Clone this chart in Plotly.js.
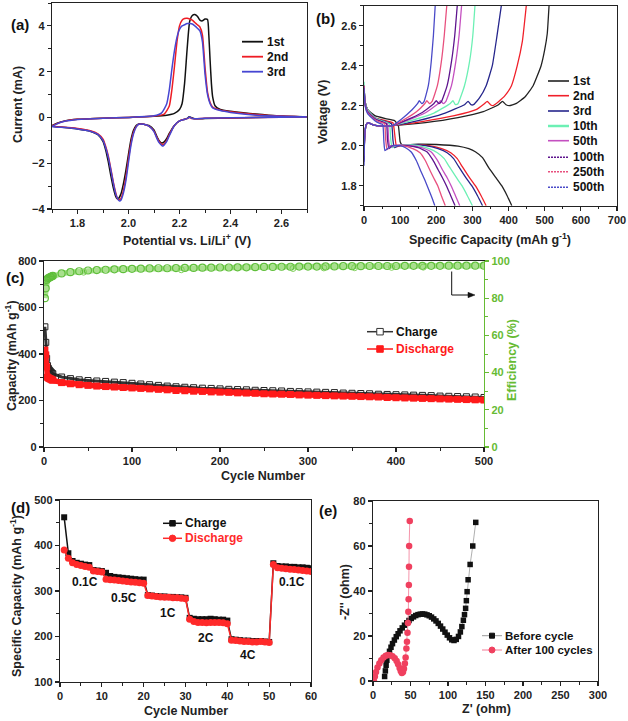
<!DOCTYPE html>
<html>
<head>
<meta charset="utf-8">
<script src="https://cdn.plot.ly/plotly-3.0.1.min.js"></script>
<style>html,body{margin:0;padding:0;background:#fff;}#chart{width:628px;height:721px;}</style>
</head>
<body>
<div id="chart"></div>
<script>
// ---------------- (a) cyclic voltammetry ----------------
const cv1stAnodicV = [1.70,1.72,1.75,1.80,1.90,2.00,2.10,2.15,2.18,2.20,2.21,2.22,2.23,2.24,2.25,2.26,2.27,2.28,2.29,2.30,2.31,2.315,2.32,2.325,2.33,2.34,2.36,2.40,2.45,2.50,2.55,2.60,2.70];
const cv1stAnodicI = [-0.36,-0.25,-0.15,-0.08,-0.03,0.0,0.05,0.1,0.18,0.35,0.6,1.5,3.0,4.2,4.45,4.5,4.42,4.25,4.22,4.3,4.28,3.6,2.5,1.5,0.9,0.5,0.35,0.27,0.2,0.15,0.1,0.06,0.03];
const cv1stCathodicV = [2.60,2.50,2.40,2.30,2.26,2.245,2.238,2.23,2.22,2.20,2.18,2.16,2.15,2.14,2.13,2.12,2.11,2.10,2.08,2.06,2.05,2.04,2.03,2.02,2.01,2.00,1.99,1.98,1.97,1.96,1.955,1.95,1.94,1.93,1.92,1.91,1.90,1.88,1.85,1.80,1.75,1.70];
const cv1stCathodicI = [0.02,0.0,-0.02,-0.05,-0.06,0.0,0.03,-0.04,-0.08,-0.15,-0.35,-0.7,-0.92,-1.07,-1.12,-1.02,-0.8,-0.55,-0.35,-0.3,-0.28,-0.28,-0.35,-0.55,-0.95,-1.6,-2.3,-2.9,-3.35,-3.55,-3.55,-3.45,-3.05,-2.5,-1.9,-1.4,-1.05,-0.75,-0.6,-0.5,-0.44,-0.38];

const cv2ndAnodicV = [1.70,1.72,1.75,1.80,1.90,2.00,2.10,2.14,2.16,2.17,2.18,2.19,2.20,2.21,2.22,2.23,2.24,2.25,2.26,2.27,2.28,2.29,2.30,2.31,2.32,2.33,2.36,2.40,2.50,2.60,2.70];
const cv2ndAnodicI = [-0.38,-0.27,-0.16,-0.08,-0.03,0.0,0.06,0.15,0.5,1.2,2.2,3.3,4.0,4.25,4.32,4.33,4.3,4.25,4.15,4.05,3.95,3.6,2.2,1.1,0.65,0.45,0.32,0.25,0.13,0.06,0.03];
const cv2ndCathodicV = [2.50,2.30,2.25,2.24,2.23,2.20,2.18,2.16,2.15,2.14,2.13,2.12,2.11,2.10,2.08,2.06,2.04,2.03,2.02,2.01,2.00,1.99,1.98,1.97,1.962,1.955,1.95,1.94,1.93,1.92,1.91,1.90,1.88,1.85,1.80,1.75,1.70];
const cv2ndCathodicI = [0.0,-0.04,-0.05,0.0,-0.05,-0.15,-0.35,-0.75,-1.0,-1.15,-1.18,-1.05,-0.85,-0.6,-0.38,-0.3,-0.3,-0.4,-0.65,-1.1,-1.8,-2.6,-3.2,-3.55,-3.6,-3.5,-3.3,-2.8,-2.2,-1.65,-1.25,-0.95,-0.72,-0.58,-0.48,-0.43,-0.38];

const cv3rdAnodicV = [1.70,1.72,1.75,1.80,1.90,2.00,2.10,2.13,2.15,2.16,2.17,2.18,2.19,2.20,2.21,2.22,2.23,2.24,2.25,2.26,2.27,2.28,2.29,2.30,2.31,2.32,2.33,2.36,2.40,2.50,2.60,2.70];
const cv3rdAnodicI = [-0.4,-0.28,-0.17,-0.09,-0.03,0.0,0.07,0.2,0.6,1.2,2.1,2.9,3.5,3.85,4.0,4.05,4.1,4.1,4.08,4.0,3.9,3.78,3.3,1.9,1.0,0.6,0.42,0.3,0.22,0.1,0.05,0.02];
const cv3rdCathodicV = [2.50,2.30,2.25,2.24,2.23,2.20,2.18,2.16,2.15,2.14,2.135,2.13,2.12,2.11,2.10,2.08,2.06,2.04,2.03,2.02,2.01,2.00,1.99,1.98,1.97,1.965,1.96,1.95,1.94,1.93,1.92,1.91,1.90,1.88,1.85,1.80,1.75,1.70];
const cv3rdCathodicI = [0.0,-0.04,-0.05,0.02,-0.05,-0.15,-0.35,-0.8,-1.05,-1.2,-1.25,-1.22,-1.1,-0.88,-0.62,-0.38,-0.3,-0.3,-0.42,-0.7,-1.2,-1.95,-2.75,-3.3,-3.62,-3.65,-3.6,-3.35,-2.85,-2.25,-1.7,-1.3,-1.0,-0.74,-0.6,-0.5,-0.44,-0.4];

const cvLabels = ['1st','2nd','3rd'];
const cvColors = ['#111111','#ee1c24','#4646d2'];

// ---------------- (b) charge / discharge profiles ----------------
const gcLabels = ['1st','2nd','3rd','10th','50th','100th','250th','500th'];
const gcColors = ['#222222','#f0202a','#26268c','#6cf0b4','#c450c0','#5e148e','#e8507e','#4a4ac8'];
const gcLegendDash = ['solid','solid','solid','solid','solid','2px,1px','2px,1px','2px,1px'];

const gcChargeCap = [
  [0,2,6,12,20,35,55,78,170,260,330,372,383,393,402,420,446,468,490,500,507,512],
  [0,2,6,12,20,35,55,78,160,250,310,333,341,350,357,372,390,408,424,438,449],
  [0,2,6,12,20,35,55,78,150,220,278,288,296,303,320,338,355,368,380],
  [0,2,6,12,20,35,55,78,130,190,238,246,253,260,278,292,301,307],
  [0,2,6,12,20,35,55,78,125,170,205,212,219,226,242,254,263,270],
  [0,2,6,12,20,35,55,78,120,160,193,200,207,214,230,242,251,258],
  [0,2,6,12,20,35,55,78,110,145,168,174,181,188,203,214,222,229],
  [0,2,6,12,20,35,55,78,105,133,148,153,160,166,178,186,192,197]
];
const gcChargeV = [
  [1.98,2.05,2.105,2.115,2.108,2.1,2.098,2.1,2.115,2.14,2.17,2.205,2.222,2.205,2.2,2.21,2.245,2.3,2.4,2.48,2.56,2.7],
  [1.95,2.05,2.105,2.115,2.108,2.1,2.098,2.1,2.12,2.15,2.18,2.21,2.222,2.205,2.2,2.22,2.25,2.3,2.4,2.52,2.7],
  [1.93,2.05,2.105,2.115,2.108,2.1,2.098,2.1,2.125,2.16,2.205,2.222,2.205,2.205,2.24,2.3,2.4,2.55,2.7],
  [1.96,2.05,2.105,2.115,2.108,2.1,2.098,2.1,2.125,2.16,2.21,2.225,2.205,2.21,2.3,2.42,2.55,2.7],
  [1.94,2.05,2.105,2.115,2.108,2.1,2.098,2.1,2.13,2.165,2.21,2.225,2.21,2.22,2.3,2.42,2.55,2.7],
  [1.92,2.05,2.105,2.115,2.108,2.1,2.098,2.1,2.13,2.165,2.21,2.225,2.21,2.22,2.3,2.42,2.55,2.7],
  [1.95,2.05,2.105,2.115,2.108,2.1,2.098,2.1,2.13,2.17,2.21,2.225,2.21,2.22,2.3,2.42,2.55,2.7],
  [1.90,2.05,2.105,2.115,2.108,2.1,2.098,2.1,2.135,2.18,2.21,2.225,2.21,2.22,2.3,2.42,2.55,2.7]
];
const gcDischargeCap = [
  [0,3,10,30,60,85,95,100,105,150,200,260,290,308,328,345,365,381,396,409],
  [0,3,10,30,60,80,86,90,100,140,180,215,240,258,272,290,308,324,338],
  [0,3,10,30,60,76,80,84,95,135,170,205,230,248,262,280,298,314,328],
  [0,3,10,30,55,70,74,78,88,120,150,180,203,222,236,254,271,286,300],
  [0,3,10,30,50,65,68,72,82,120,160,185,202,217,230,241,253,265],
  [0,3,10,30,50,62,65,69,78,115,150,174,190,205,217,228,240,252],
  [0,3,10,30,48,57,60,64,74,105,135,155,170,183,194,204,214,225],
  [0,3,10,30,45,52,55,58,68,78,100,115,130,145,158,168,177,187,196]
];
const gcDischargeV = [
  [2.3,2.22,2.18,2.15,2.135,2.125,2.1,2.02,2.005,2.008,2.006,1.998,1.985,1.97,1.94,1.89,1.84,1.8,1.75,1.7],
  [2.3,2.22,2.18,2.14,2.125,2.115,2.04,1.995,2.0,2.005,2.0,1.985,1.965,1.935,1.895,1.845,1.8,1.75,1.7],
  [2.3,2.22,2.18,2.14,2.12,2.11,2.03,1.99,2.0,2.005,2.0,1.985,1.965,1.935,1.895,1.845,1.8,1.75,1.7],
  [2.32,2.22,2.18,2.14,2.12,2.11,2.03,1.99,2.0,2.005,2.0,1.985,1.965,1.935,1.895,1.845,1.8,1.75,1.7],
  [2.3,2.21,2.17,2.135,2.12,2.11,2.03,1.99,2.0,2.003,1.99,1.97,1.93,1.88,1.84,1.8,1.75,1.7],
  [2.3,2.21,2.17,2.135,2.12,2.11,2.03,1.985,2.0,2.0,1.99,1.97,1.93,1.88,1.84,1.8,1.75,1.7],
  [2.3,2.2,2.165,2.13,2.115,2.11,2.03,1.98,2.0,2.0,1.985,1.965,1.925,1.875,1.835,1.8,1.75,1.7],
  [2.29,2.2,2.16,2.125,2.11,2.105,2.02,1.975,1.99,2.0,2.0,1.99,1.97,1.925,1.87,1.83,1.79,1.745,1.7]
];

// ---------------- (c) long cycling ----------------
const longCycles = [1,2,3,4,5,6,7,8,9,10,20,30,40,50,60,70,80,90,100,110,120,130,140,150,160,170,180,190,200,210,220,230,240,250,260,270,280,290,300,310,320,330,340,350,360,370,380,390,400,410,420,430,440,450,460,470,480,490,500];
const longCharge = [517,450,381,350,338,331,326,322,318,315,301,294,289,286,284,282,279,277,274,271,268,265,262,259,257,255,253,252,250,248,247,246,244,243,242,241,239,238,237,236,235,234,232,231,230,229,227,226,225,224,223,222,221,219,218,217,216,215,213];
const longDischarge = [417,396,345,300,297,295,293,291,289,287,277,272,268,265,262,260,258,256,254,252,250,248,246,243,242,240,239,237,236,235,233,232,231,229,228,227,226,224,223,222,221,220,219,218,217,216,215,213,212,211,210,209,208,207,206,205,204,203,202];
const longEfficiency = [80,85.3,89.8,90.5,90.8,91.0,91.3,91.5,91.8,92.0,93.3,94.0,94.5,94.9,95.1,95.3,95.5,95.6,95.8,95.9,96.0,96.1,96.1,96.2,96.3,96.3,96.4,96.4,96.5,96.5,96.6,96.6,96.7,96.8,96.8,96.9,96.9,97.0,97.0,97.0,97.1,97.1,97.2,97.2,97.2,97.3,97.3,97.3,97.3,97.4,97.4,97.4,97.4,97.4,97.5,97.5,97.5,97.5,97.5];
const effDipCycles = [45,156,283,318,353,395,431];
const effDipValues = [94.0,95.3,96.0,96.3,96.4,96.6,96.7];

// ---------------- (d) rate capability ----------------
const rateCycles = [1,2,3,4,5,6,7,8,9,10,11,12,13,14,15,16,17,18,19,20,21,22,23,24,25,26,27,28,29,30,31,32,33,34,35,36,37,38,39,40,41,42,43,44,45,46,47,48,49,50,51,52,53,54,55,56,57,58,59,60];
const rateCharge = [462,383,366,362,360,358,357,346,345,344,340,333,331,330,329,328,327,326,325,325,291,290,289,288,288,287,287,286,286,285,241,239,238,238,238,239,238,237,237,235,194,193,192,191,191,190,190,190,189,188,361,355,354,354,353,353,352,352,351,350];
const rateDischarge = [390,372,362,358,356,354,352,344,343,342,326,325,324,323,322,321,320,319,318,317,290,289,288,287,286,286,285,285,284,283,238,233,231,231,230,231,231,231,230,228,192,191,190,189,189,188,188,189,188,187,358,351,350,349,348,347,346,345,344,343];
const rateLabels = ['0.1C','0.5C','1C','2C','4C','0.1C'];
const rateLabelX = [6,15.2,25.8,35,45,55.5];
const rateLabelY = [320,285,252,197,159,320];

// ---------------- (e) impedance ----------------
const eisBeforeRe = [15.5,16.5,17.5,18.5,20,22,24,26,28.5,31,33.5,36,39,42,45,48,51,54,57,60,63,66,69,72,75,78,81,84,87,90,93,96,99,102,105,108,111,114,116.5,118.5,120.5,122,123.5,124.5,125.5,126.8,129.5,133,137];
const eisBeforeIm = [2.0,4.5,7.0,9.2,11.3,13.2,15,16.6,18.2,19.7,21,22.3,23.6,24.8,25.9,26.9,27.8,28.5,29.1,29.5,29.7,29.8,29.7,29.4,29.0,28.4,27.6,26.7,25.6,24.4,23.1,21.7,20.4,19.2,18.3,18.0,18.5,19.8,21.8,24.2,27,29.5,32.3,35.7,39.7,45,51.8,60.0,70.5];
const eisAfterRe = [1.3,2.5,4,6,8.5,11,14,17,20,23,26,29,31.5,33.5,35.5,37,38.5,40,41.3,42.5,43.5,44.5,45.3,46,46.6,47.1,47.5,47.8,48,48.2,49];
const eisAfterIm = [0,2.0,4.0,6.0,7.8,9.2,10.4,11.2,11.6,11.5,11.0,10.1,8.9,7.5,5.8,4.4,3.6,4.0,5.5,7.8,10.5,14.5,17.5,21.5,25.8,30.8,36.3,42.7,50.8,60.0,71.1];

// ================= drawing =================
const W = 628, H = 721;
const FONT = 'Liberation Sans, Arial, sans-serif';
const px = v => v / W;
const py = v => 1 - v / H;
const shapes = [];
const annotations = [];

const traces = [];
// (a)
const cvAV = [cv1stAnodicV, cv2ndAnodicV, cv3rdAnodicV];
const cvAI = [cv1stAnodicI, cv2ndAnodicI, cv3rdAnodicI];
const cvCV = [cv1stCathodicV, cv2ndCathodicV, cv3rdCathodicV];
const cvCI = [cv1stCathodicI, cv2ndCathodicI, cv3rdCathodicI];
for (let i = 0; i < 3; i++) {
  traces.push({x: cvAV[i].concat(cvCV[i]), y: cvAI[i].concat(cvCI[i]), xaxis:'x', yaxis:'y', mode:'lines', name: cvLabels[i],
    line:{color: cvColors[i], width:1.5, shape:'spline', smoothing:0.5}, showlegend:false});
}
// (b)
for (let i = 0; i < gcLabels.length; i++) {
  traces.push({x: gcChargeCap[i], y: gcChargeV[i], xaxis:'x2', yaxis:'y2', mode:'lines', name: gcLabels[i]+' charge',
    line:{color: gcColors[i], width:1.3, shape:'spline', smoothing:0.4}, showlegend:false});
  traces.push({x: gcDischargeCap[i], y: gcDischargeV[i], xaxis:'x2', yaxis:'y2', mode:'lines', name: gcLabels[i]+' discharge',
    line:{color: gcColors[i], width:1.3, shape:'spline', smoothing:0.4}, showlegend:false});
}
// (c)
const GREEN = '#66bb33';
traces.push({x: longCycles, y: longCharge, xaxis:'x3', yaxis:'y3', mode:'lines+markers', name:'Charge',
  line:{color:'#333333', width:3}, marker:{symbol:'square-open', size:6, color:'#222222', line:{width:1}}, showlegend:false});
traces.push({x: longCycles, y: longDischarge, xaxis:'x3', yaxis:'y3', mode:'lines+markers', name:'Discharge',
  line:{color:'#ff1a1a', width:5.5}, marker:{symbol:'square', size:7, color:'#ff1a1a'}, showlegend:false});
traces.push({x: longCycles, y: longEfficiency, xaxis:'x3', yaxis:'y4', mode:'lines+markers', name:'Efficiency',
  line:{color:'#a9e08e', width:5.5}, marker:{symbol:'circle-open', size:7, color:'#5fbf3a', line:{width:1.2}}, showlegend:false});
traces.push({x: effDipCycles, y: effDipValues, xaxis:'x3', yaxis:'y4', mode:'markers', name:'Efficiency',
  marker:{symbol:'circle-open', size:6, color:'#7fcf5a', line:{width:1}}, showlegend:false});
// (d)
traces.push({x: rateCycles, y: rateCharge, xaxis:'x4', yaxis:'y5', mode:'lines+markers', name:'Charge',
  line:{color:'#111111', width:1.5}, marker:{symbol:'square', size:6, color:'#111111'}, showlegend:false});
traces.push({x: rateCycles, y: rateDischarge, xaxis:'x4', yaxis:'y5', mode:'lines+markers', name:'Discharge',
  line:{color:'#ff2a2a', width:1.5}, marker:{symbol:'circle', size:7, color:'#ff2a2a'}, showlegend:false});
// (e)
traces.push({x: eisBeforeRe, y: eisBeforeIm, xaxis:'x5', yaxis:'y6', mode:'lines+markers', name:'Before cycle',
  line:{color:'#9a9a9a', width:0.8}, marker:{symbol:'square', size:5.5, color:'#111111'}, showlegend:false});
traces.push({x: eisAfterRe, y: eisAfterIm, xaxis:'x5', yaxis:'y6', mode:'lines+markers', name:'After 100 cycles',
  line:{color:'#f27a95', width:0.8}, marker:{symbol:'circle', size:6.5, color:'#f0405f'}, showlegend:false});

// axis helper
function axis(o) {
  const a = {
    showline:true, linecolor:'#222', linewidth:1.2, mirror:true,
    ticks:'outside', ticklen:4, tickwidth:1.2, tickcolor:'#222',
    showgrid:false, zeroline:false, automargin:false, fixedrange:true,
    tickfont:{family:FONT, size:11, color:'#222', weight:700},
    minor:{ticks:'outside', ticklen:2.5, tickwidth:1, tickcolor:'#222', dtick:o.minor}
  };
  ['domain','anchor','range','dtick','tick0','tickformat','side','overlaying','mirror'].forEach(k => { if (o[k] !== undefined) a[k] = o[k]; });
  if (o.color) { a.linecolor = o.color; a.tickcolor = o.color; a.tickfont.color = o.color; a.minor.tickcolor = o.color; }
  return a;
}

const layout = {
  width: W, height: H, margin:{l:0, r:0, t:0, b:0}, paper_bgcolor:'#fff', plot_bgcolor:'rgba(0,0,0,0)',
  showlegend:false, font:{family:FONT},
  xaxis: axis({domain:[px(52), px(307)], anchor:'y', range:[1.7,2.7], dtick:0.2, tick0:1.8, tickformat:'.1f', minor:0.1}),
  yaxis: axis({domain:[py(209), py(3)], anchor:'x', range:[-4,5], dtick:2, tick0:-4, minor:1}),
  xaxis2: axis({domain:[px(364), px(617)], anchor:'y2', range:[0,700], dtick:100, minor:50}),
  yaxis2: axis({domain:[py(205.7), py(5.7)], anchor:'x2', range:[1.7,2.7], dtick:0.2, tick0:1.8, tickformat:'.1f', minor:0.1}),
  xaxis3: axis({domain:[px(44), px(484)], anchor:'y3', range:[0,500], dtick:100, minor:50}),
  yaxis3: axis({domain:[py(447), py(261)], anchor:'x3', range:[0,800], dtick:200, minor:100, mirror:false}),
  yaxis4: axis({anchor:'x3', overlaying:'y3', side:'right', range:[0,100], dtick:20, minor:10, mirror:false, color:GREEN}),
  xaxis4: axis({domain:[px(60), px(311)], anchor:'y5', range:[0,60], dtick:10, minor:5}),
  yaxis5: axis({domain:[py(682), py(500)], anchor:'x4', range:[100,500], dtick:100, minor:50}),
  xaxis5: axis({domain:[px(373), px(598)], anchor:'y6', range:[0,300], dtick:50, minor:25}),
  yaxis6: axis({domain:[py(681), py(501)], anchor:'x5', range:[0,80], dtick:20, minor:10}),
  shapes: shapes, annotations: annotations
};

// text helpers (pixel positions on the page)
function txt(x, y, text, color, size, anchor, angle) {
  annotations.push({xref:'paper', yref:'paper', x:px(x), y:py(y), xanchor:anchor || 'left', yanchor:'middle', text:text, showarrow:false,
    textangle: angle || 0, font:{family:FONT, size:size, color:color, weight:700}});
}
function legLine(x0, x1, y, color, width, dash) {
  shapes.push({type:'line', xref:'paper', yref:'paper', x0:px(x0), x1:px(x1), y0:py(y), y1:py(y), line:{color:color, width:width, dash:dash || 'solid'}});
}
function legRect(cx, cy, s, fill, lc) {
  shapes.push({type:'rect', xref:'paper', yref:'paper', x0:px(cx - s/2), x1:px(cx + s/2), y0:py(cy + s/2), y1:py(cy - s/2), fillcolor:fill, line:{color:lc, width:1}});
}
function legCircle(cx, cy, s, fill, lc) {
  shapes.push({type:'circle', xref:'paper', yref:'paper', x0:px(cx - s/2), x1:px(cx + s/2), y0:py(cy + s/2), y1:py(cy - s/2), fillcolor:fill, line:{color:lc, width:1}});
}

// axis titles
txt(187, 240, 'Potential vs. Li/Li<sup>+</sup> (V)', '#222', 12.5, 'center');
txt(18, 105, 'Current (mA)', '#222', 12.5, 'center', -90);
txt(490, 239, 'Specific Capacity (mAh g<sup>-1</sup>)', '#222', 12.5, 'center');
txt(323, 112, 'Voltage (V)', '#222', 12.5, 'center', -90);
txt(263, 476, 'Cycle Number', '#222', 12.5, 'center');
txt(11, 356, 'Capacity (mAh g<sup>-1</sup>)', '#222', 12.5, 'center', -90);
txt(512, 360, 'Efficiency (%)', GREEN, 12.5, 'center', -90);
txt(186, 711, 'Cycle Number', '#222', 12.5, 'center');
txt(16, 596, 'Specific Capacity (mAh g<sup>-1</sup>)', '#222', 12.5, 'center', -90);
txt(486, 709, "Z' (ohm)", '#222', 12.5, 'center');
txt(345, 592, "-Z'' (ohm)", '#222', 12.5, 'center', -90);

// (a) legend
const cvLegY = [41.7, 56.7, 71.7];
for (let i = 0; i < 3; i++) { legLine(242, 263, cvLegY[i], cvColors[i], 1.8); txt(265, cvLegY[i], cvLabels[i], '#111', 12); }
// (b) legend
const gcLegY = [81, 95.7, 111, 126, 140.7, 157.3, 171.7, 187.3];
for (let i = 0; i < gcLabels.length; i++) { legLine(548, 569, gcLegY[i], gcColors[i], i === 3 ? 2.5 : 1.6, gcLegendDash[i]); txt(571, gcLegY[i], gcLabels[i], '#111', 12); }
// (c) legend
legLine(367, 393, 331.7, '#333', 1.5); legRect(380, 331.7, 6.5, '#ffffff', '#333'); txt(394, 331.7, 'Charge', '#111', 12);
legLine(367, 393, 349, '#ff1a1a', 1.5); legRect(380, 349, 6.5, '#ff1a1a', '#ff1a1a'); txt(394, 349, 'Discharge', '#ff1a1a', 12);
// (c) arrow pointing to the right (efficiency) axis
shapes.push({type:'line', xref:'paper', yref:'paper', x0:px(451.7), x1:px(451.7), y0:py(271.5), y1:py(295), line:{color:'#111', width:1}});
shapes.push({type:'line', xref:'paper', yref:'paper', x0:px(451.7), x1:px(470), y0:py(295), y1:py(295), line:{color:'#111', width:1}});
shapes.push({type:'path', xref:'paper', yref:'paper',
  path:'M ' + px(475) + ' ' + py(295) + ' L ' + px(468) + ' ' + py(292.3) + ' L ' + px(468) + ' ' + py(297.7) + ' Z',
  fillcolor:'#111', line:{color:'#111', width:0.5}});
// (d) legend
legLine(163, 182, 523.3, '#111', 1.5); legRect(172.5, 523.3, 5.5, '#111', '#111'); txt(183, 523.3, 'Charge', '#111', 12);
legLine(163, 182, 538.3, '#ff2a2a', 1.5); legCircle(172.5, 538.3, 6.5, '#ff2a2a', '#ff2a2a'); txt(183, 538.3, 'Discharge', '#ff2a2a', 12);
// (d) rate labels
for (let i = 0; i < rateLabels.length; i++) {
  annotations.push({xref:'x4', yref:'y5', x:rateLabelX[i], y:rateLabelY[i], text:rateLabels[i], showarrow:false,
    font:{family:FONT, size:12, color:'#111', weight:700}});
}
// (e) legend
legLine(482, 502, 635.7, '#9a9a9a', 1); legRect(492, 635.7, 5, '#111', '#111'); txt(503, 635.7, 'Before cycle', '#111', 11.5);
legLine(482, 502, 650, '#f27a95', 1); legCircle(492, 650, 6, '#f0405f', '#f0405f'); txt(503, 650, 'After 100 cycles', '#111', 11.5);

// panel labels
txt(9, 25, '(a)', '#111', 15);
txt(314, 19, '(b)', '#111', 15);
txt(4, 277, '(c)', '#111', 15);
txt(9, 507, '(d)', '#111', 15);
txt(317, 510, '(e)', '#111', 15);

Plotly.newPlot('chart', traces, layout, {staticPlot:true, displayModeBar:false});
</script>
</body>
</html>
